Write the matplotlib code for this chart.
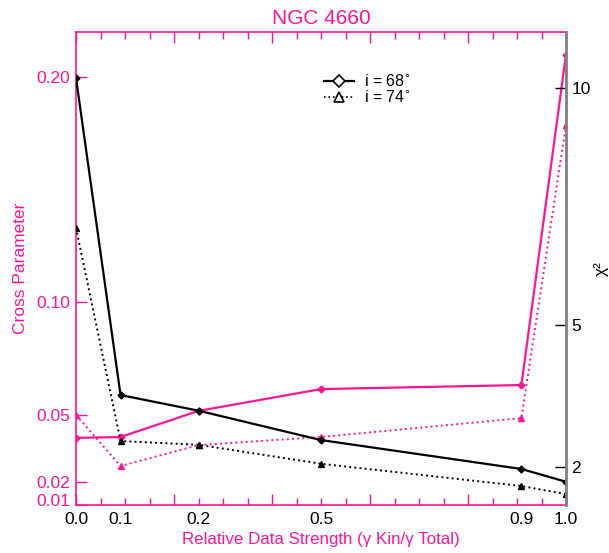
import matplotlib
matplotlib.use("Agg")
from matplotlib import pyplot as plt
from matplotlib.lines import Line2D
from matplotlib.ticker import MultipleLocator
import matplotlib.transforms as mtransforms

plt.rcParams['font.family'] = ['Liberation Sans', 'DejaVu Sans']

PINK = '#ff1493'

# relative data strength; plotted abscissa and its labels
x_pos = [0.0, 0.0909, 0.25, 0.5, 0.909, 1.0]
x_labels = ['0.0', '0.1', '0.2', '0.5', '0.9', '1.0']

# cross parameter (left axis)
cross_68 = [0.0396, 0.0400, 0.0516, 0.0613, 0.0631, 0.210]
cross_74 = [0.0498, 0.0271, 0.0364, 0.0400, 0.0484, 0.1787]

# chi^2 (right axis)
chi2_68 = [10.21, 3.52, 3.19, 2.57, 1.96, 1.69]
chi2_74 = [7.05, 2.55, 2.47, 2.07, 1.60, 1.43]

left_ticks = [0.01, 0.02, 0.05, 0.10, 0.20]
right_ticks = [2, 5, 10]

fig = plt.figure(figsize=(6.09, 5.53), dpi=100)
ax = fig.add_axes([0.1248, 0.0868, 0.8046, 0.8553])
ax2 = ax.twinx()

# pink: cross parameter
ax.plot(x_pos, cross_68, color=PINK, lw=1.6, marker='D', ms=3.5, mfc=PINK, mec=PINK)
ax.plot(x_pos, cross_74, color=PINK, lw=1.4, ls=':', marker='^', ms=4.5, mfc=PINK, mec=PINK)

# black: chi^2
ax2.plot(x_pos, chi2_68, color='black', lw=1.6, marker='D', ms=3.5)
ax2.plot(x_pos, chi2_74, color='black', lw=1.4, ls=':', marker='^', ms=4.5)

ax.set_xlim(0, 1)
ax.set_ylim(0.00978, 0.22)
ax2.set_ylim(1.2, 11.18)

# x ticks: linear marks, labels at the data strengths
ax.xaxis.set_major_locator(MultipleLocator(0.2))
ax.xaxis.set_minor_locator(MultipleLocator(0.05))
ax.tick_params(axis='x', which='both', direction='in', colors=PINK,
               top=True, bottom=True, labelbottom=False)
ax.tick_params(axis='x', which='major', length=8, width=1)
ax.tick_params(axis='x', which='minor', length=5, width=1)
sec = ax.secondary_xaxis('bottom')
sec.set_xticks(x_pos, x_labels)
sec.tick_params(length=0, labelsize=12.5, labelcolor='black', pad=5)
sec.spines['bottom'].set_visible(False)
sec.set_xlabel('Relative Data Strength (\u03b3 Kin/\u03b3 Total)', color=PINK, fontsize=12.2, labelpad=4)

ax.set_yticks(left_ticks, ['%.2f' % t for t in left_ticks])
ax.tick_params(axis='y', direction='in', length=8, width=1, colors=PINK, labelsize=12.5, pad=4)
ax.set_ylabel('Cross Parameter', color=PINK, fontsize=12.5, labelpad=6)
# nudge the bottom label up like the original
lab = ax.get_yticklabels()[0]
lab.set_transform(lab.get_transform() + mtransforms.ScaledTranslation(0, 5 / 100, fig.dpi_scale_trans))

ax2.set_yticks(right_ticks, [str(t) for t in right_ticks])
ax2.tick_params(axis='y', direction='in', length=8, width=1, colors='black', labelsize=12.5, pad=4)
ax2.set_ylabel('\u03c7\u00b2', fontsize=12.5, labelpad=2)

for s in ['left', 'top', 'bottom']:
    ax.spines[s].set_color(PINK)
    ax.spines[s].set_linewidth(1.2)
    ax2.spines[s].set_visible(False)
ax.spines['right'].set_visible(False)
ax2.spines['right'].set_color('#808080')
ax2.spines['right'].set_linewidth(2)

ax.set_title('NGC 4660', color=PINK, fontsize=15, pad=6)

handles = [
    Line2D([], [], color='black', lw=1.6, marker='D', ms=6, mfc='white', mec='black', mew=1.2),
    Line2D([], [], color='black', lw=1.2, ls=':', marker='^', ms=7, mfc='white', mec='black', mew=1.2),
]
ax2.legend(handles, ['i = 68$^{\\circ}$', 'i = 74$^{\\circ}$'], loc='upper left',
           bbox_to_anchor=(0.49, 0.93), frameon=False, fontsize=11.5, borderpad=0,
           labelspacing=0.0, handlelength=1.9, handletextpad=0.6)

fig.savefig('out.png', dpi=100)
plt.close(fig)
